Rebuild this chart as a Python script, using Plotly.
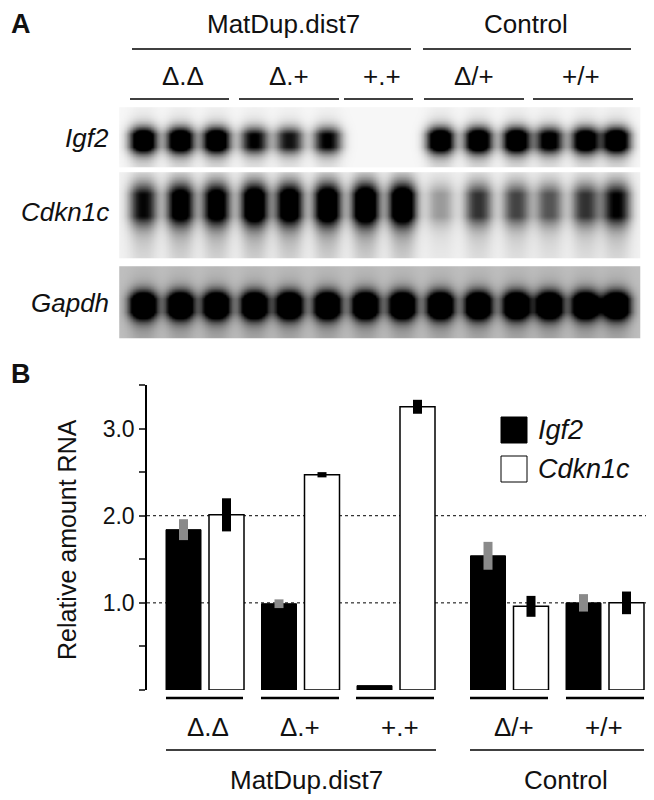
import numpy as np
import plotly.graph_objects as go

# ---------------- data ----------------
groups = ["Δ.Δ", "Δ.+", "+.+", "Δ/+", "+/+"]
supergroups = ["MatDup.dist7", "Control"]
igf2_vals = [1.84, 0.99, 0.05, 1.54, 1.00]
igf2_err = [0.12, 0.05, 0.0, 0.16, 0.10]
cdkn_vals = [2.01, 2.47, 3.25, 0.96, 1.00]
cdkn_err = [0.19, 0.03, 0.08, 0.12, 0.13]
yticks_major = [1.0, 2.0, 3.0]
ytick_labels = ["1.0", "2.0", "3.0"]

# blot band intensities (14 lanes)
blot_genes = ["Igf2", "Cdkn1c", "Gapdh"]
igf2_band = [1.0, 1.0, 1.0, 0.72, 0.66, 0.72, 0.0, 0.0, 1.0, 1.0, 1.0, 0.82, 0.95, 1.0]
cdkn_band = [0.68, 0.85, 0.85, 0.95, 0.9, 0.95, 1.0, 1.0, 0.25, 0.55, 0.5, 0.45, 0.55, 0.7]
gapdh_band = [1.0] * 14

FONT = "Liberation Sans, Arial, sans-serif"
FS = 26
fig = go.Figure()

# page body has an 8px margin: the figure covers window pixels 8..654 / 8..800
OFF = 8
W, H = 654 - OFF, 800 - OFF

def px_x(p):
    return (p - OFF) / W

def px_y(p):
    return 1 - (p - OFF) / H

# ---------------- panel B: bars ----------------
gc = []
x = 205.0
for i in range(len(groups)):
    gc.append(x)
    x += 95.5 + (18 if i == 2 else 0)
bw = 35
off = 21.5
xi = [c - off for c in gc]
xc = [c + off for c in gc]

fig.add_trace(go.Bar(x=xi, y=igf2_vals, width=bw, marker=dict(color="black", line=dict(color="black", width=1)),
                     error_y=dict(type="data", array=igf2_err, color="#8a8a8a", thickness=9, width=0, visible=True),
                     showlegend=False))
fig.add_trace(go.Bar(x=xc, y=cdkn_vals, width=bw, marker=dict(color="white", line=dict(color="black", width=1.5)),
                     error_y=dict(type="data", array=cdkn_err, color="black", thickness=9, width=0, visible=True),
                     showlegend=False))

# ---------------- panel A: blot heatmaps ----------------
lane_x = [143, 180, 216, 254, 289, 327, 365, 402, 440, 478, 516, 549, 585, 616]
strips = [  # (values, y0, y1, band center, sigma_y, background, tail)
    (igf2_band, 108, 167, 140, 12, 0.03, 0.35),
    (cdkn_band, 173, 258, 203, 19, 0.05, 0.6),
    (gapdh_band, 267, 338, 305, 13, 0.24, 0.35),
]
xs = np.arange(120, 640, 1.5)
for vals, y0, y1, yc, sy, bg, tail in strips:
    ys = np.arange(y0, y1, 1.5)
    X, Y = np.meshgrid(xs, ys)
    Z = np.full(X.shape, bg)
    for lx, v in zip(lane_x, vals):
        gx = np.exp(-(np.abs(X - lx) / 14.0) ** 2.5)
        core = np.exp(-((Y - yc) / sy) ** 2)
        smear = tail * np.exp(-np.clip(Y - yc, 0, None) / (sy * 2.0)) * (Y > yc)
        top = 0.3 * np.exp(-np.clip(yc - Y, 0, None) / (sy * 1.2)) * (Y < yc)
        Z += v * gx * np.clip(1.4 * core + smear + top, 0, 1.3)
    Z = np.clip(Z, 0, 1)
    fig.add_trace(go.Heatmap(x=xs, y=ys, z=Z, xaxis="x2", yaxis="y2", zmin=0, zmax=0.95,
                             colorscale=[[0, "white"], [1, "black"]], showscale=False,
                             zsmooth="best", hoverinfo="skip"))

shapes = []
ann = []

def line(x0, x1, y, w=1.5):
    shapes.append(dict(type="line", xref="x2", yref="y2", x0=x0, x1=x1, y0=y, y1=y,
                       line=dict(color="black", width=w)))

def text(x, y, t, size=FS, xanchor="center", italic=False, bold=False, angle=0):
    if italic:
        t = "<i>" + t + "</i>"
    if bold:
        t = "<b>" + t + "</b>"
    ann.append(dict(x=x, y=y, xref="x2", yref="y2", text=t, showarrow=False, xanchor=xanchor,
                    yanchor="middle", textangle=angle, font=dict(family=FONT, size=size, color="#111")))

# panel A labels
text(9, 24, "A", size=27, xanchor="left", bold=True)
text(283, 24, supergroups[0]); text(526, 24, supergroups[1])
line(132, 411, 49); line(423, 631, 49)
sub_lines = [(130, 229), (239, 339), (344, 413), (424, 524), (533, 633)]
sub_lab = [183, 289, 382, 474, 581]
for (a, b), cx, g in zip(sub_lines, sub_lab, groups):
    line(a, b, 99)
    text(cx, 76, g)
for g, yy in zip(blot_genes, [138, 212, 303]):
    text(111, yy, g, xanchor="right", italic=True)

# panel B annotations
text(9, 374, "B", size=27, xanchor="left", bold=True)
b_lines = [(166, 243), (261, 339), (356, 434), (470, 548), (566, 644)]
b_lab = [208, 300, 400, 514, 604]
for (a, b), cx, g in zip(b_lines, b_lab, groups):
    line(a, b, 698, 2.5)
    text(cx, 727, g)
line(166, 436, 750); line(470, 644, 750)
text(306, 780, supergroups[0]); text(566, 780, supergroups[1])
text(67, 540, "Relative amount RNA", size=25, angle=-90)
# legend
for (c, yy, lab) in [("black", 430, "Igf2"), ("white", 469, "Cdkn1c")]:
    shapes.append(dict(type="rect", xref="x2", yref="y2", x0=501, x1=527, y0=yy - 13, y1=yy + 13,
                       fillcolor=c, line=dict(color="black", width=1)))
    text(536, yy, lab, size=27, xanchor="left", italic=True)

# dotted reference lines
for yv in [1.0, 2.0]:
    shapes.append(dict(type="line", xref="x", yref="y", x0=147, x1=652, y0=yv, y1=yv,
                       line=dict(color="black", width=1, dash="dot"), layer="below"))

yt = [0, 0.5, 1.0, 1.5, 2.0, 2.5, 3.0, 3.5]
yl = [ytick_labels[yticks_major.index(v)] if v in yticks_major else "" for v in yt]

fig.update_layout(
    width=W, height=H, margin=dict(l=0, r=0, t=0, b=0),
    paper_bgcolor="white", plot_bgcolor="rgba(0,0,0,0)", barmode="overlay",
    font=dict(family=FONT),
    xaxis=dict(domain=[px_x(147), 1], range=[147, 654], visible=False),
    yaxis=dict(domain=[px_y(690), px_y(385)], range=[0, 3.5],
               tickvals=yt, ticktext=yl, ticks="outside", ticklen=6, tickwidth=1.5,
               showline=True, linewidth=1.5, linecolor="black", showgrid=False, zeroline=False,
               tickfont=dict(family=FONT, size=23, color="#111"), anchor="x"),
    xaxis2=dict(domain=[0, 1], range=[OFF, 654], visible=False, anchor="y2"),
    yaxis2=dict(domain=[0, 1], range=[800, OFF], visible=False, anchor="x2"),
    shapes=shapes, annotations=ann,
)
fig.write_html("out.html")
